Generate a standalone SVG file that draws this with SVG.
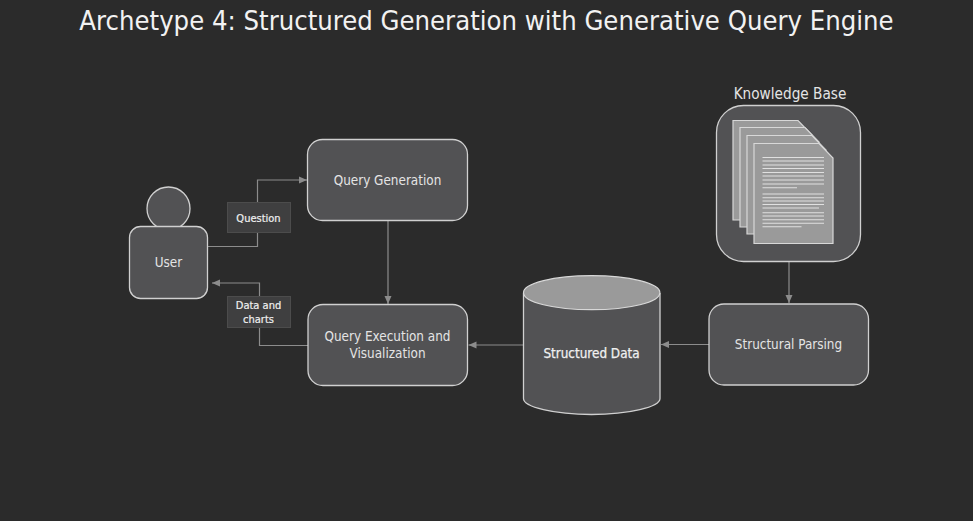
<svg xmlns="http://www.w3.org/2000/svg" width="973" height="521" viewBox="0 0 973 521">
<defs>
<style>
text{font-family:"DejaVu Sans","Liberation Sans",sans-serif;font-stretch:condensed;fill:#e4e4e4;text-anchor:middle}
.n{fill:#525254;stroke:#d0d0d0;stroke-width:1.3}
.l{font-size:13.4px}
.e{fill:none;stroke:#8c8c8c;stroke-width:1.2}
.lab{fill:#3f3f40;stroke:#4c4c4c;stroke-width:1}
.t{font-size:11px;stroke:#f0f0f0;stroke-width:.2;fill:#f0f0f0}
.d{fill:#9a9a9a;stroke:#d8d8d8;stroke-width:1.2}
.r{stroke:#e0e0e0;stroke-width:1.1;fill:none}
</style>
<marker id="a" markerWidth="9" markerHeight="8" refX="8" refY="4" orient="auto" markerUnits="userSpaceOnUse"><path d="M0 .5L8 4L0 7.5z" fill="#8c8c8c"/></marker>
</defs>
<rect width="973" height="521" fill="#2b2b2b"/>
<text x="486.500" y="30" font-size="27.200" style="fill:#f2f2f2">Archetype 4: Structured Generation with Generative Query Engine</text>
<g id="connectors">
<path class="e" marker-end="url(#a)" d="M208 246.500H257.500V180H307"/>
<path class="e" marker-end="url(#a)" d="M308 345.500H259.500V283H212"/>
<path class="e" marker-end="url(#a)" d="M388 221V304"/>
<path class="e" marker-end="url(#a)" d="M523 345H468.500"/>
<path class="e" marker-end="url(#a)" d="M709 344.500H661"/>
<path class="e" marker-end="url(#a)" d="M789 262V303"/>
</g>
<g id="edge-question"><rect class="lab" x="227.500" y="202.500" width="63" height="30"/><text class="t" x="258.500" y="221.500">Question</text></g>
<g id="edge-data"><rect class="lab" x="227.500" y="296.500" width="63" height="31"/><text class="t" x="258.500" y="308.500">Data and</text><text class="t" x="258.500" y="322.500">charts</text></g>
<g id="user">
<circle class="n" cx="168.500" cy="208.500" r="21.500"/>
<rect class="n" x="129.500" y="226.500" width="78" height="72" rx="11"/>
<text class="l" x="168.500" y="266.500">User</text>
</g>
<g id="query-generation"><rect class="n" x="307.500" y="139.500" width="160" height="81" rx="15"/><text class="l" x="387.500" y="184.500">Query Generation</text></g>
<g id="query-execution"><rect class="n" x="308" y="304.500" width="159.500" height="81" rx="15"/><text class="l" x="387.500" y="341">Query Execution and</text><text class="l" x="387.500" y="358">Visualization</text></g>
<g id="structured-data">
<path class="n" d="M523.500 293V398.500C523.500 407 554 414.500 591.500 414.500S660 407 660 398.500V293"/>
<ellipse class="d" cx="591.700" cy="292.700" rx="68.200" ry="17"/>
<text class="l" x="591.500" y="358" style="stroke:#f0f0f0;stroke-width:.25;fill:#f0f0f0">Structured Data</text>
</g>
<g id="structural-parsing"><rect class="n" x="709" y="304" width="159.500" height="81" rx="15"/><text class="l" x="788.500" y="349">Structural Parsing</text></g>
<g id="knowledge-base">
<text x="790" y="98.500" font-size="15.200">Knowledge Base</text>
<rect class="n" x="716.500" y="105.500" width="144" height="156" rx="27"/>
<path class="d" d="M733 120.500H798L812 135V220H733z"/>
<path class="d" d="M740 127.500H805L819 142V227H740z"/>
<path class="d" d="M747 135.500H812L826 150V234H747z"/>
<path class="d" d="M754 143.500H819L833 158V243.500H754z"/>
<path class="r" d="M762.500 157.500H824M762.500 161H824M762.500 165H824M762.500 168.500H824M762.500 172.500H824M762.500 176H824M762.500 180H824M762.500 184H824M762.500 187.700H797M762.500 194H824M762.500 197.700H824M762.500 201H824M762.500 204.500H824M762.500 208H819M762.500 212.700H824M762.500 216H824M762.500 219.700H824M762.500 223.300H824M762.500 226.700H801.500"/>
</g>
</svg>
